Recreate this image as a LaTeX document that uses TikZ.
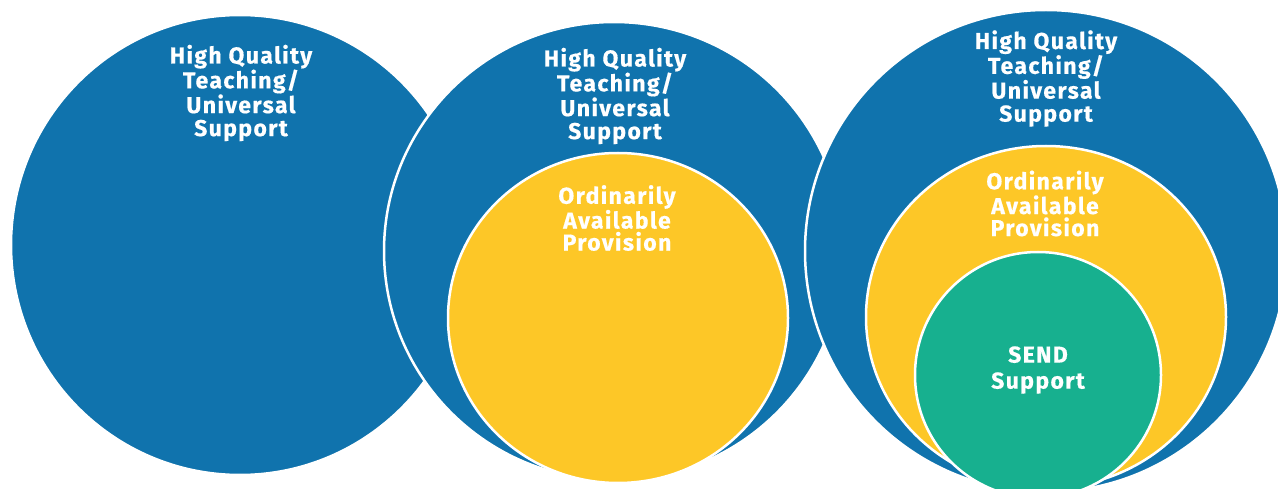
\documentclass[tikz,border=0pt]{standalone}
\usepackage{fontspec}
\setmainfont{Fira Sans}
\newfontfamily\lblfont{Fira Sans}[LetterSpace=6, FakeBold=0.5]
\usetikzlibrary{shapes.geometric}
\definecolor{hqblue}{RGB}{16,115,173}
\definecolor{oapyellow}{RGB}{253,199,39}
\definecolor{sendgreen}{RGB}{23,176,143}
\tikzset{
  blob/.style={ellipse, draw=white, line width=2.5pt, inner sep=0pt},
  lbl/.style={text=white, align=center, inner sep=0pt,
    font=\lblfont\bfseries\fontsize{23}{23}\selectfont},
}
\begin{document}
\begin{tikzpicture}[x=1pt,y=1pt]
\useasboundingbox (0,0) rectangle (1278,488);
\begin{scope}
\clip (0,0) rectangle (1278,488);
\node[blob, fill=hqblue, minimum width=458pt, minimum height=460pt] (e1) at (240,243) {};
\node[blob, fill=hqblue, minimum width=460pt, minimum height=458pt] (e2) at (614,237) {};
\node[blob, fill=oapyellow, minimum width=340pt, minimum height=330pt] (y2) at (618,170) {};
\node[blob, fill=hqblue, minimum width=482pt, minimum height=482pt] (e3) at (1046,237) {};
\node[blob, fill=oapyellow, minimum width=360pt, minimum height=342pt] (y3) at (1046,171) {};
\node[blob, fill=sendgreen, minimum width=246pt, minimum height=246pt] (g3) at (1038,113) {};
\end{scope}
\node[lbl] (t1) at (241,395) {High Quality\\Teaching/\\Universal\\Support};
\node[lbl] (t2) at (615,392) {High Quality\\Teaching/\\Universal\\Support};
\node[lbl] (t3) at (1046,409.5) {High Quality\\Teaching/\\Universal\\Support};
\node[lbl, font=\lblfont\bfseries\fontsize{23}{22}\selectfont] (o2) at (617,270) {Ordinarily\\Available\\Provision};
\node[lbl, font=\lblfont\bfseries\fontsize{23}{22}\selectfont] (o3) at (1045,284.5) {Ordinarily\\Available\\Provision};
\node[lbl, font=\lblfont\bfseries\fontsize{23}{26}\selectfont] (s3) at (1038,118) {SEND\\Support};
\end{tikzpicture}
\end{document}
